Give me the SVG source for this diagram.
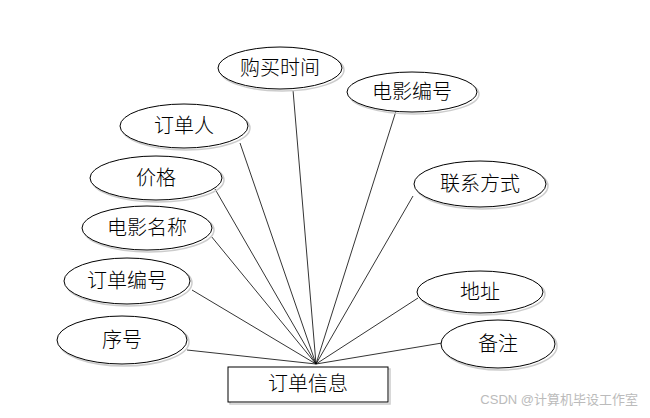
<svg xmlns="http://www.w3.org/2000/svg" width="650" height="418" viewBox="0 0 650 418">
<style>
.e{fill:#fff;stroke:#000;stroke-width:1}
.s{fill:none;stroke:#ccc;stroke-width:1.5}
.t{font-family:"Liberation Serif","Noto Sans CJK SC",serif;font-size:20px;font-weight:300;fill:#000;text-anchor:middle;dominant-baseline:central}
.c line{stroke:#000;stroke-width:0.8}
</style>
<rect width="650" height="418" fill="#fff"/>
<g class="c" id="connectors">
<line x1="293" y1="90" x2="316" y2="364"/>
<line x1="396" y1="111" x2="316" y2="364"/>
<line x1="240" y1="143" x2="316" y2="364"/>
<line x1="215" y1="189" x2="316" y2="364"/>
<line x1="211" y1="236" x2="316" y2="364"/>
<line x1="192" y1="290" x2="316" y2="364"/>
<line x1="187" y1="350" x2="316" y2="364"/>
<line x1="413" y1="196" x2="316" y2="364"/>
<line x1="418" y1="298" x2="316" y2="364"/>
<line x1="442" y1="343" x2="316" y2="364"/>
</g>
<g id="n1"><ellipse class="s" cx="282" cy="70" rx="62" ry="21"/><ellipse class="e" cx="280" cy="68" rx="62" ry="21"/><text class="t" x="280" y="68">购买时间</text></g>
<g id="n2"><ellipse class="s" cx="414" cy="94" rx="65" ry="20"/><ellipse class="e" cx="412" cy="92" rx="65" ry="20"/><text class="t" x="412" y="92">电影编号</text></g>
<g id="n3"><ellipse class="s" cx="186" cy="128" rx="64" ry="22"/><ellipse class="e" cx="184" cy="126" rx="64" ry="22"/><text class="t" x="184" y="126">订单人</text></g>
<g id="n4"><ellipse class="s" cx="158" cy="180" rx="66" ry="22"/><ellipse class="e" cx="156" cy="178" rx="66" ry="22"/><text class="t" x="156" y="178">价格</text></g>
<g id="n5"><ellipse class="s" cx="149" cy="230" rx="65" ry="22"/><ellipse class="e" cx="147" cy="228" rx="65" ry="22"/><text class="t" x="147" y="228">电影名称</text></g>
<g id="n6"><ellipse class="s" cx="129" cy="283" rx="63" ry="23"/><ellipse class="e" cx="127" cy="281" rx="63" ry="23"/><text class="t" x="127" y="281">订单编号</text></g>
<g id="n7"><ellipse class="s" cx="124" cy="342" rx="65" ry="24"/><ellipse class="e" cx="122" cy="340" rx="65" ry="24"/><text class="t" x="122" y="340">序号</text></g>
<g id="n8"><ellipse class="s" cx="482" cy="186" rx="66" ry="23"/><ellipse class="e" cx="480" cy="184" rx="66" ry="23"/><text class="t" x="480" y="184">联系方式</text></g>
<g id="n9"><ellipse class="s" cx="482" cy="294" rx="63" ry="21"/><ellipse class="e" cx="480" cy="292" rx="63" ry="21"/><text class="t" x="480" y="292">地址</text></g>
<g id="n10"><ellipse class="s" cx="500" cy="346" rx="57" ry="24"/><ellipse class="e" cx="498" cy="344" rx="57" ry="24"/><text class="t" x="498" y="344">备注</text></g>
<g id="entity"><rect x="230" y="369" width="160" height="35" fill="none" stroke="#ccc" stroke-width="1.5"/><rect x="228" y="367" width="160" height="35" fill="#fff" stroke="#000" stroke-width="1"/><text class="t" x="308" y="384">订单信息</text></g>
<text x="638" y="404" font-family="Liberation Sans,'Noto Sans CJK SC',sans-serif" font-size="13" fill="#bbb" text-anchor="end">CSDN @计算机毕设工作室</text>
</svg>
